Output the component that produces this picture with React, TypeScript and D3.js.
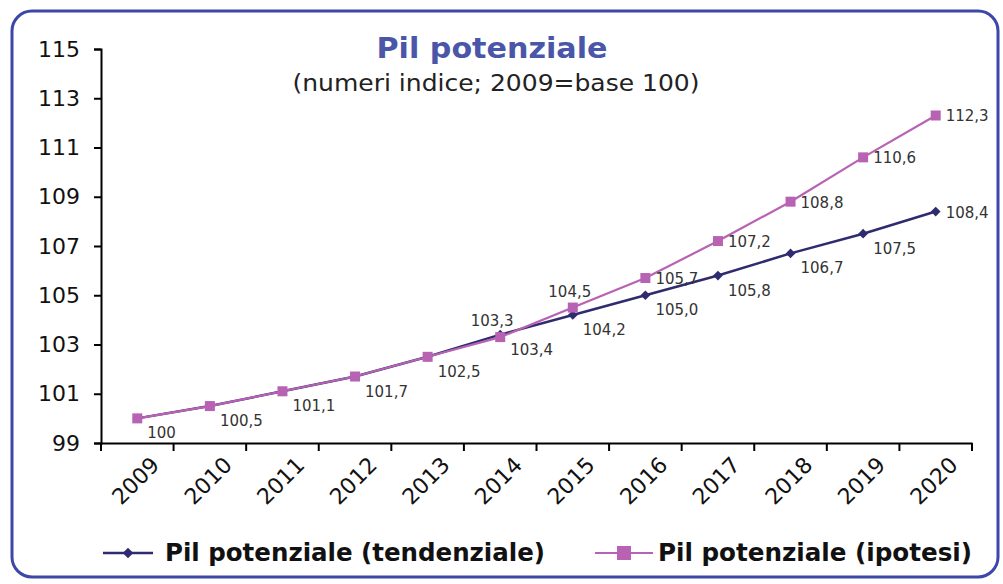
import React, { useEffect, useRef } from "react";
import * as d3 from "d3";

const years = ["2009", "2010", "2011", "2012", "2013", "2014", "2015", "2016", "2017", "2018", "2019", "2020"];
const tendenziale = [100, 100.5, 101.1, 101.7, 102.5, 103.4, 104.2, 105.0, 105.8, 106.7, 107.5, 108.4];
const ipotesi = [100, 100.5, 101.1, 101.7, 102.5, 103.3, 104.5, 105.7, 107.2, 108.8, 110.6, 112.3];
const yTicks = [99, 101, 103, 105, 107, 109, 111, 113, 115];

// where each data label sits: "br" below-right, "r" right, "t" above, "" none
const tendLabelPos = ["", "", "", "", "", "br", "br", "br", "br", "br", "br", "r"];
const ipoLabelPos = ["br", "br", "br", "br", "br", "tl", "t", "r", "r", "r", "r", "r"];

const FONT = "'DejaVu Sans', Verdana, sans-serif";
const NAVY = "#2e2b6e";
const PINK = "#b862b4";

const fmt = (v: number, i: number) =>
  i === 0 ? "100" : v.toFixed(1).replace(".", ",");

export default function App() {
  const ref = useRef<SVGSVGElement>(null);

  useEffect(() => {
    const svg = d3.select(ref.current);
    svg.selectAll("*").remove();

    const W = 1003, H = 584;
    svg.append("rect").attr("width", W).attr("height", H).attr("fill", "#fff");
    svg
      .append("rect")
      .attr("x", 12).attr("y", 11)
      .attr("width", 986).attr("height", 566)
      .attr("rx", 20)
      .attr("fill", "#fff")
      .attr("stroke", "#3d47a8")
      .attr("stroke-width", 3);

    const left = 101, right = 972, top = 49, bottom = 443;
    const x = d3.scaleBand().domain(years).range([left, right]);
    const y = d3.scaleLinear().domain([99, 115]).range([bottom, top]);
    const cx = (i: number) => (x(years[i]) as number) + x.bandwidth() / 2;

    // y axis
    const yAxis = svg
      .append("g")
      .attr("transform", `translate(${left},0)`)
      .call(d3.axisLeft(y).tickValues(yTicks).tickSize(7).tickPadding(14).tickFormat(d3.format("d")));
    yAxis.select(".domain").attr("stroke", "#000").attr("stroke-width", 2);
    yAxis.selectAll(".tick line").attr("stroke", "#000").attr("stroke-width", 2);
    yAxis.selectAll(".tick text").attr("font-family", FONT).attr("font-size", 22).attr("fill", "#111");

    // x axis
    const xAxis = svg
      .append("g")
      .attr("transform", `translate(0,${bottom})`)
      .call(d3.axisBottom(x).tickSize(0).tickSizeOuter(0));
    xAxis.select(".domain").attr("stroke", "#000").attr("stroke-width", 2);
    xAxis
      .selectAll(".tick text")
      .attr("font-family", FONT)
      .attr("font-size", 22)
      .attr("fill", "#111")
      .attr("text-anchor", "end")
      .attr("transform", "translate(18,18) rotate(-45)")
      .attr("dy", "0.35em")
      .attr("y", 0);
    // tick marks at band boundaries
    const bounds = years.map((yr) => x(yr) as number).concat([right]);
    xAxis
      .selectAll(".bnd")
      .data(bounds)
      .enter()
      .append("line")
      .attr("x1", (d) => d).attr("x2", (d) => d)
      .attr("y1", 0).attr("y2", 8)
      .attr("stroke", "#000").attr("stroke-width", 2);

    // title
    svg.append("text").attr("x", 492).attr("y", 58).attr("text-anchor", "middle")
      .attr("font-family", FONT).attr("font-weight", "bold").attr("font-size", 28)
      .attr("textLength", 231).attr("lengthAdjust", "spacingAndGlyphs")
      .attr("fill", "#4a56a8").text("Pil potenziale");
    svg.append("text").attr("x", 496).attr("y", 91).attr("text-anchor", "middle")
      .attr("font-family", FONT).attr("font-size", 23)
      .attr("textLength", 407).attr("lengthAdjust", "spacingAndGlyphs")
      .attr("fill", "#222").text("(numeri indice; 2009=base 100)");

    const line = d3.line<number>().x((_, i) => cx(i)).y((d) => y(d));

    // tendenziale
    svg.append("path").datum(tendenziale).attr("d", line)
      .attr("fill", "none").attr("stroke", NAVY).attr("stroke-width", 2.5);
    svg.append("g").selectAll("path").data(tendenziale).enter().append("path")
      .attr("d", d3.symbol(d3.symbolDiamond2, 60)())
      .attr("transform", (d, i) => `translate(${cx(i)},${y(d)})`)
      .attr("fill", NAVY);

    // ipotesi
    svg.append("path").datum(ipotesi).attr("d", line)
      .attr("fill", "none").attr("stroke", PINK).attr("stroke-width", 2.2);
    svg.append("g").selectAll("rect").data(ipotesi).enter().append("rect")
      .attr("x", (_, i) => cx(i) - 5).attr("y", (d) => y(d) - 5)
      .attr("width", 10).attr("height", 10)
      .attr("fill", PINK);

    // data labels
    const drawLabels = (vals: number[], pos: string[]) => {
      const items = vals
        .map((v, i) => ({ v, i, p: pos[i] }))
        .filter((d) => d.p !== "");
      svg.append("g").selectAll("text").data(items).enter().append("text")
        .attr("font-family", FONT).attr("font-size", 15).attr("fill", "#333")
        .attr("x", (d) => {
          if (d.p === "t") return cx(d.i) - 3;
          if (d.p === "tl") return cx(d.i) - 8;
          return cx(d.i) + 10;
        })
        .attr("y", (d) => {
          if (d.p === "t" || d.p === "tl") return y(d.v) - 11;
          if (d.p === "r") return y(d.v) + 6;
          return y(d.v) + 20;
        })
        .attr("text-anchor", (d) => (d.p === "t" || d.p === "tl" ? "middle" : "start"))
        .text((d) => fmt(d.v, d.i));
    };
    drawLabels(tendenziale, tendLabelPos);
    drawLabels(ipotesi, ipoLabelPos);

    // legend
    const lg = svg.append("g").attr("font-family", FONT).attr("font-weight", "bold")
      .attr("font-size", 24).attr("fill", "#111");
    lg.append("line").attr("x1", 103).attr("x2", 153).attr("y1", 553).attr("y2", 553)
      .attr("stroke", NAVY).attr("stroke-width", 2.5);
    lg.append("path").attr("d", d3.symbol(d3.symbolDiamond2, 70)())
      .attr("transform", "translate(128,553)").attr("fill", NAVY);
    lg.append("text").attr("x", 165).attr("y", 561)
      .attr("textLength", 380).attr("lengthAdjust", "spacingAndGlyphs")
      .text("Pil potenziale (tendenziale)");

    lg.append("line").attr("x1", 595).attr("x2", 653).attr("y1", 553).attr("y2", 553)
      .attr("stroke", PINK).attr("stroke-width", 2.2);
    lg.append("rect").attr("x", 617).attr("y", 546).attr("width", 14).attr("height", 14)
      .attr("fill", PINK);
    lg.append("text").attr("x", 658).attr("y", 561)
      .attr("textLength", 314).attr("lengthAdjust", "spacingAndGlyphs")
      .text("Pil potenziale (ipotesi)");
  }, []);

  return <svg ref={ref} width={1003} height={584} style={{ display: "block", position: "absolute", left: 0, top: 0 }} />;
}
